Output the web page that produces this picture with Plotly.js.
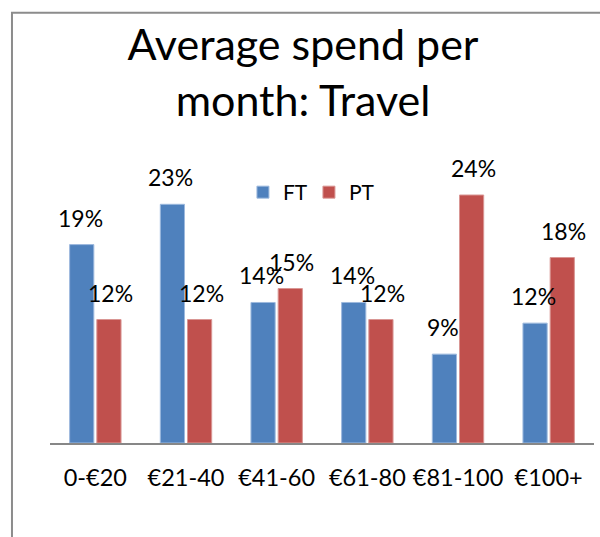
<!DOCTYPE html>
<html>
<head>
<meta charset="utf-8">
<script src="https://cdn.plot.ly/plotly-3.0.1.min.js"></script>
<style>
html,body{margin:0;padding:0;background:#fff;}
#chart{width:600px;height:537px;}
</style>
</head>
<body>
<div id="chart"></div>
<script>
const categories = ['0-€20', '€21-40', '€41-60', '€61-80', '€81-100', '€100+'];
const ftValues = [19.2, 23.1, 13.6, 13.6, 8.6, 11.6];
const ptValues = [11.95, 11.95, 14.95, 11.95, 24.0, 17.95];
const seriesNames = ['FT', 'PT'];
const seriesColors = ['#4F81BD', '#C0504D'];

const FONT = 'Lato, "Open Sans", sans-serif';

const traces = [
  {type: 'bar', name: seriesNames[0], x: categories, y: ftValues,
   marker: {color: seriesColors[0], line: {color: '#9DB9DE', width: 1}}, hoverinfo: 'none'},
  {type: 'bar', name: seriesNames[1], x: categories, y: ptValues,
   marker: {color: seriesColors[1], line: {color: '#D99694', width: 1}}, hoverinfo: 'none'}
];

const annotations = [];
[ftValues, ptValues].forEach((vals, si) => {
  vals.forEach((v, i) => {
    annotations.push({
      xref: 'x', yref: 'y', x: categories[i], y: v,
      xshift: si === 0 ? -15.2 : 15.2, yshift: 11,
      yanchor: 'bottom', xanchor: 'center',
      text: Math.round(v) + '%', showarrow: false,
      font: {family: FONT, size: 23, color: '#000'}
    });
  });
});

const layout = {
  width: 600, height: 537,
  margin: {l: 50, r: 6, t: 132.5, b: 94},
  paper_bgcolor: '#fff', plot_bgcolor: 'rgba(0,0,0,0)',
  title: {text: 'Average spend per<br>month: Travel', x: 0.505, xanchor: 'center', y: 0.889, yanchor: 'top',
          font: {family: FONT, size: 43, color: '#000'}},
  barmode: 'group', bargap: 0.40, bargroupgap: 0.11,
  showlegend: true,
  legend: {orientation: 'h', x: 0.476, xanchor: 'center', y: 0.808, yanchor: 'middle',
           font: {family: FONT, size: 21, color: '#000'}, bgcolor: 'rgba(0,0,0,0)',
           itemwidth: 30, entrywidth: 21, entrywidthmode: 'pixels'},
  xaxis: {showline: true, linecolor: '#878787', linewidth: 2, ticks: '', showgrid: false,
          tickfont: {family: FONT, size: 23.5, color: '#000'}, ticklabelstandoff: 13, fixedrange: true},
  yaxis: {range: [0, 30], visible: false, showgrid: false, zeroline: false, fixedrange: true},
  annotations: annotations,
  shapes: [{type: 'rect', xref: 'paper', yref: 'paper',
            x0: -0.0699, x1: 1.05, y0: -0.4, y1: 1.388,
            line: {color: '#8C8C8C', width: 2}, fillcolor: 'rgba(0,0,0,0)', layer: 'below'}]
};

Plotly.newPlot('chart', traces, layout, {displayModeBar: false, staticPlot: true});
</script>
</body>
</html>
